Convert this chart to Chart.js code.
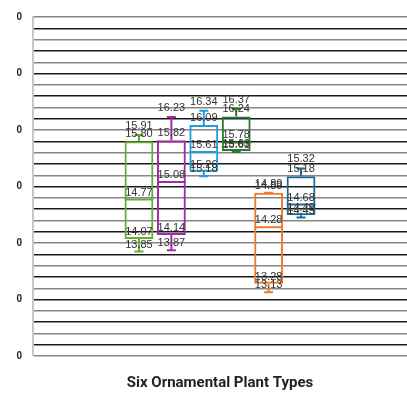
<!DOCTYPE html>
<html lang="en">
<head>
    <meta charset="UTF-8">
    <title>Six Ornamental Plant Types</title>
    <script src="https://cdn.jsdelivr.net/npm/chart.js"></script>
    <style>
        body {
            margin: 0;
            background-color: #ffffff;
        }
        .chart-box {
            width: 407px;
            height: 394px;
        }
    </style>
</head>
<body>
    <div class="chart-box">
        <canvas id="box-chart"></canvas>
    </div>

    <script>
        // Box plot statistics per plant type
        const plantTypes = ['Type 1', 'Type 2', 'Type 3', 'Type 4', 'Type 5', 'Type 6'];
        const minValues    = [13.85, 13.87, 15.18, 15.61, 13.13, 14.45];
        const q1Values     = [14.07, 14.14, 15.26, 15.63, 13.28, 14.49];
        const medianValues = [14.77, 15.08, 15.61, 15.78, 14.28, 14.68];
        const q3Values     = [15.80, 15.82, 16.09, 16.24, 14.89, 15.18];
        const maxValues    = [15.91, 16.23, 16.34, 16.37, 14.89, 15.32];
        const boxColors = ['#62b032', '#a22ca6', '#1e9ee0', '#2b7b2b', '#f07a2e', '#1f6a94'];

        document.addEventListener('DOMContentLoaded', () => {
            const ctx = document.getElementById('box-chart').getContext('2d');

            const datasets = plantTypes.map((name, i) => ({
                label: name,
                data: [[q1Values[i], q3Values[i]]],
                backgroundColor: 'rgba(255, 255, 255, 0)',
                borderColor: boxColors[i],
                borderWidth: 2,
                borderSkipped: false
            }));

            // whiskers, medians and value labels
            const boxExtras = {
                id: 'boxExtras',
                afterDatasetsDraw(chart) {
                    const {ctx, scales: {y}} = chart;
                    ctx.save();
                    chart.data.datasets.forEach((ds, i) => {
                        const bar = chart.getDatasetMeta(i).data[0];
                        const cx = bar.x;
                        const half = bar.width / 2;
                        const yMin = y.getPixelForValue(minValues[i]);
                        const yQ1 = y.getPixelForValue(q1Values[i]);
                        const yMed = y.getPixelForValue(medianValues[i]);
                        const yQ3 = y.getPixelForValue(q3Values[i]);
                        const yMax = y.getPixelForValue(maxValues[i]);

                        ctx.strokeStyle = boxColors[i];
                        ctx.lineWidth = 2;
                        ctx.beginPath();
                        ctx.moveTo(cx, yQ3);
                        ctx.lineTo(cx, yMax);
                        ctx.moveTo(cx - 4.5, yMax);
                        ctx.lineTo(cx + 4.5, yMax);
                        ctx.moveTo(cx, yQ1);
                        ctx.lineTo(cx, yMin);
                        ctx.moveTo(cx - 4.5, yMin);
                        ctx.lineTo(cx + 4.5, yMin);
                        ctx.moveTo(cx - half, yMed);
                        ctx.lineTo(cx + half, yMed);
                        ctx.stroke();
                    });

                    ctx.font = '11px "Liberation Sans", Arial, sans-serif';
                    ctx.fillStyle = '#333333';
                    ctx.textAlign = 'center';
                    ctx.textBaseline = 'middle';
                    chart.data.datasets.forEach((ds, i) => {
                        const cx = chart.getDatasetMeta(i).data[0].x;
                        const vals = [minValues[i], q1Values[i], medianValues[i], q3Values[i], maxValues[i]];
                        vals.forEach((v, k) => {
                            const off = k === 4 ? 9 : 7;
                            ctx.fillText(v.toFixed(2), cx, y.getPixelForValue(v) - off);
                        });
                    });
                    ctx.restore();
                }
            };

            new Chart(ctx, {
                type: 'bar',
                data: {
                    labels: [''],
                    datasets: datasets
                },
                options: {
                    responsive: true,
                    maintainAspectRatio: false,
                    animation: false,
                    layout: {
                        padding: { top: 14, right: 0, left: 0 }
                    },
                    datasets: {
                        bar: {
                            categoryPercentage: 0.52,
                            barPercentage: 0.89
                        }
                    },
                    scales: {
                        x: {
                            display: false
                        },
                        y: {
                            min: 12,
                            max: 18,
                            afterFit(scale) {
                                scale.width = 33;
                            },
                            border: {
                                display: true,
                                color: '#c8c8c8',
                                width: 2
                            },
                            grid: {
                                drawTicks: false,
                                lineWidth: 1.4,
                                color: (c) => (c.index % 2 === 0 ? '#858585' : '#1a1a1a')
                            },
                            ticks: {
                                stepSize: 0.2,
                                autoSkip: false,
                                padding: 11,
                                color: '#222222',
                                font: { size: 10, weight: 'bold', family: 'Liberation Sans' },
                                callback: (v) => (Math.abs(v - Math.round(v)) < 1e-6 ? '0' : '')
                            }
                        }
                    },
                    plugins: {
                        legend: { display: false },
                        tooltip: { enabled: false },
                        title: {
                            display: true,
                            text: 'Six Ornamental Plant Types',
                            position: 'bottom',
                            fullSize: false,
                            color: '#222222',
                            font: { size: 15, weight: 'bold', family: 'Roboto', lineHeight: 1.2 },
                            padding: { top: 18, bottom: 2 }
                        }
                    }
                },
                plugins: [boxExtras]
            });
        });
    </script>
</body>
</html>
